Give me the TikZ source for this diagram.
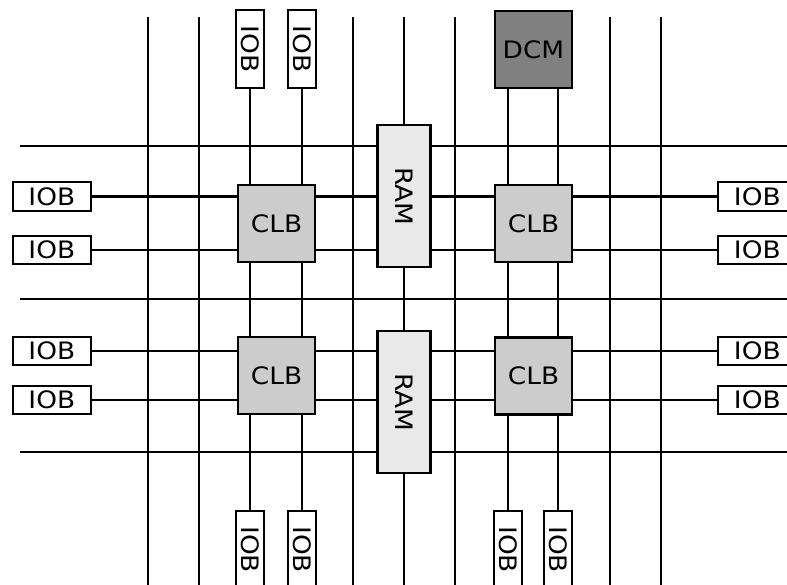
\documentclass[tikz,border=0pt]{standalone}
\usepackage{fontspec}
\setmainfont{DejaVu Sans}[FakeStretch=1.1]
\usetikzlibrary{backgrounds}

\begin{document}
\begin{tikzpicture}[x=1pt, y=-1pt, line width=2.2pt,
    every node/.style={font=\fontsize{24}{27}\selectfont},
    wire/.style={line width=2.2pt},
    iob/.style={draw, fill=white, minimum width=78pt, minimum height=28.5pt, inner sep=0pt},
    clb/.style={draw, fill=gray!40, minimum size=77pt, inner sep=0pt},
    ram/.style={draw, fill=gray!17, rotate=-90, minimum width=142pt, minimum height=53pt, inner sep=0pt},
    dcm/.style={draw, fill=gray, minimum size=77pt, inner sep=0pt}]
\useasboundingbox (0,0) rectangle (787,585);

% Logic blocks
\node[clb] (clb1) at (276.5,223.5) {CLB};
\node[clb] (clb2) at (533.5,223.5) {CLB};
\node[clb] (clb3) at (276.5,375.5) {CLB};
\node[clb] (clb4) at (533.5,376) {CLB};
% Block RAM
\node[ram] (ram1) at (404,196.3) {RAM};
\node[ram] (ram2) at (404,402.2) {RAM};
% Clock manager
\node[dcm] (dcm) at (533.5,49.7) {DCM};

% IO blocks left and right
\foreach \n/\y in {1/196.5, 2/250, 3/351, 4/400} {
    \node[iob] (lio\n) at (51.8,\y) {IOB};
    \node[iob] (rio\n) at (757.3,\y) {IOB};
}
% IO blocks top and bottom
\node[iob, rotate=-90] (tio1) at (250,49.3) {IOB};
\node[iob, rotate=-90] (tio2) at (302,49.3) {IOB};
\foreach \n/\x in {1/250, 2/302, 3/508, 4/558}
    \node[iob, rotate=-90] (bio\n) at (\x,549.7) {IOB};

\begin{scope}[on background layer]
% Draw routing channels
\foreach \x in {148,199,353,455,610,661}
    \draw[wire] (\x,17) -- (\x,585);
\foreach \y in {146,299,452}
    \draw[wire] (20,\y) -- (787,\y);
% RAM column
\coordinate (ramtop) at (404,17);
\coordinate (rambot) at (404,585);
\draw[wire] (ramtop) -- (ram1) -- (ram2) -- (rambot);
% IOB wires
\foreach \n in {1,...,4}
    \draw[wire] (lio\n) -- (rio\n);
\draw[wire] (tio1) -- (bio1);
\draw[wire] (tio2) -- (bio2);
\draw[wire] (dcm.center -| bio3) -- (bio3);
\draw[wire] (dcm.center -| bio4) -- (bio4);
\end{scope}
\end{tikzpicture}
\end{document}
